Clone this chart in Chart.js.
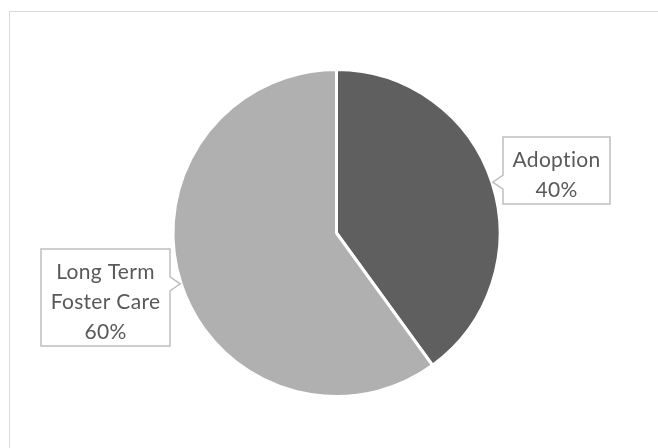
<!DOCTYPE html>
<html>
<head>
<meta charset="utf-8">
<script src="https://cdn.jsdelivr.net/npm/chart.js@4.4.0/dist/chart.umd.min.js"></script>
<style>
  html, body { margin: 0; padding: 0; background: #ffffff; }
  #wrap { width: 658px; height: 448px; position: relative; }
</style>
</head>
<body>
<div id="wrap"><canvas id="c" width="658" height="448"></canvas></div>
<script>
// Permanency outcomes, share of placements
const categories = ['Adoption', 'Long Term Foster Care'];
const shares = [40, 60];
const sliceColors = ['#5f5f5f', '#b0b0b0'];
// Callout text lines per slice (name split onto lines, then the percentage)
const calloutLines = [['Adoption'], ['Long Term', 'Foster Care']];

const FONT = '21px Lato, "Open Sans", sans-serif';
const TEXT_COLOR = '#595959';
const BOX_STROKE = '#bfbfbf';

// Light frame around the chart area
const framePlugin = {
  id: 'frame',
  beforeDraw(chart) {
    const ctx = chart.ctx;
    ctx.save();
    ctx.strokeStyle = '#d9d9d9';
    ctx.lineWidth = 1;
    ctx.strokeRect(9.5, 11.5, 800, 600);
    ctx.restore();
  }
};

// Boxed callouts with a small pointer toward each slice
const calloutPlugin = {
  id: 'callouts',
  afterDatasetsDraw(chart) {
    const ctx = chart.ctx;
    const meta = chart.getDatasetMeta(0);
    const total = shares.reduce((a, b) => a + b, 0);
    ctx.save();
    ctx.font = FONT;
    if ('letterSpacing' in ctx) ctx.letterSpacing = '0.3px'; // keeps "ti" unligated
    ctx.textAlign = 'center';
    ctx.textBaseline = 'middle';
    meta.data.forEach((arc, i) => {
      const { x, y, startAngle, endAngle, outerRadius } = arc.getProps(['x', 'y', 'startAngle', 'endAngle', 'outerRadius'], true);
      const mid = (startAngle + endAngle) / 2;
      const tipR = outerRadius * 1.005;
      const tx = x + Math.cos(mid) * tipR;
      const ty = y + Math.sin(mid) * tipR;
      const lines = calloutLines[i].concat([Math.round(shares[i] / total * 100) + '%']);
      const lineH = 30;
      const padX = 9.5;
      const widest = Math.max(...lines.map(l => ctx.measureText(l).width));
      const w = Math.round(widest + padX * 2);
      const h = lines.length * lineH + 7;
      const right = Math.cos(mid) > 0;
      const gap = 10;
      const bx = right ? Math.round(tx + gap) : Math.round(tx - gap - w);
      const by = right ? Math.round(ty - 45) : Math.round(ty - 35);
      const half = 7;

      ctx.beginPath();
      ctx.lineWidth = 1.5;
      ctx.strokeStyle = BOX_STROKE;
      ctx.fillStyle = '#ffffff';
      if (right) {
        ctx.moveTo(bx, by);
        ctx.lineTo(bx + w, by);
        ctx.lineTo(bx + w, by + h);
        ctx.lineTo(bx, by + h);
        ctx.lineTo(bx, ty + half);
        ctx.lineTo(tx, ty);
        ctx.lineTo(bx, ty - half);
        ctx.closePath();
      } else {
        ctx.moveTo(bx, by);
        ctx.lineTo(bx + w, by);
        ctx.lineTo(bx + w, ty - half);
        ctx.lineTo(tx, ty);
        ctx.lineTo(bx + w, ty + half);
        ctx.lineTo(bx + w, by + h);
        ctx.lineTo(bx, by + h);
        ctx.closePath();
      }
      ctx.fill();
      ctx.stroke();

      ctx.fillStyle = TEXT_COLOR;
      lines.forEach((l, k) => {
        ctx.fillText(l, bx + w / 2, by + 23 + lineH * k);
      });
    });
    ctx.restore();
  }
};

new Chart(document.getElementById('c'), {
  type: 'pie',
  data: {
    labels: categories,
    datasets: [{
      data: shares,
      backgroundColor: sliceColors,
      borderColor: '#ffffff',
      borderWidth: 3
    }]
  },
  options: {
    responsive: false,
    animation: false,
    events: [],
    layout: { padding: { left: 168, right: 153, top: 68, bottom: 50 } },
    plugins: {
      legend: { display: false },
      tooltip: { enabled: false },
      title: { display: false }
    }
  },
  plugins: [framePlugin, calloutPlugin]
});
</script>
</body>
</html>
